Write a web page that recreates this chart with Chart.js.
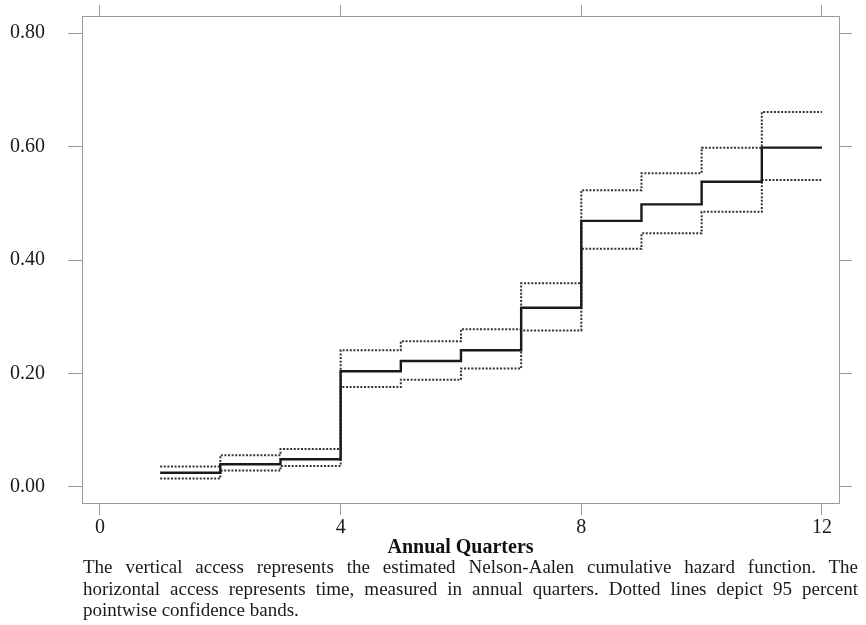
<!DOCTYPE html>
<html>
<head>
<meta charset="utf-8">
<script src="https://cdn.jsdelivr.net/npm/chart.js@4/dist/chart.umd.min.js"></script>
<style>
    body { margin: 0; background: #fff; }
    #wrap { position: relative; width: 866px; height: 625px; }
    #chart { position: absolute; left: 0; top: 0; }
    #caption {
        position: absolute; left: 83px; top: 556px; width: 775px;
        font-family: "Liberation Serif", serif; font-size: 19px; line-height: 21.5px; color: #1a1a1a;
    }
    #caption div { text-align: justify; text-align-last: justify; }
    #caption div.last { text-align-last: left; }
</style>
</head>
<body>
<div id="wrap">
    <canvas id="chart" width="866" height="560"></canvas>
    <div id="caption">
        <div>The vertical access represents the estimated Nelson-Aalen cumulative hazard function. The</div>
        <div>horizontal access represents time, measured in annual quarters. Dotted lines depict 95 percent</div>
        <div class="last">pointwise confidence bands.</div>
    </div>
</div>
<script>
const quarters = [1, 2, 3, 4, 5, 6, 7, 8, 9, 10, 11, 12];
const hazard = [0.025, 0.040, 0.049, 0.204, 0.222, 0.241, 0.316, 0.469, 0.498, 0.538, 0.598, 0.598];
const upperBand = [0.036, 0.056, 0.067, 0.241, 0.257, 0.278, 0.359, 0.523, 0.553, 0.598, 0.661, 0.661];
const lowerBand = [0.015, 0.029, 0.037, 0.176, 0.189, 0.209, 0.276, 0.420, 0.447, 0.485, 0.541, 0.541];
const xTicks = [0, 4, 8, 12];
const yTicks = [0, 0.2, 0.4, 0.6, 0.8];

const serif = '"Liberation Serif", "Times New Roman", serif';
const axisColor = '#9a9a9a';

function toPoints(values) {
    return quarters.map((q, i) => ({ x: q, y: values[i] }));
}

function stepSet(values, dashed) {
    return {
        data: toPoints(values),
        stepped: 'before',
        borderColor: dashed ? '#333' : '#1a1a1a',
        borderWidth: dashed ? 2 : 2.4,
        borderDash: dashed ? [2, 1.6] : [],
        pointRadius: 0,
        fill: false
    };
}

function fixedTicks(values) {
    return function (scale) {
        scale.ticks = values.map(v => ({ value: v }));
    };
}

// force an axis to a fixed thickness and drop the label overflow padding
function fixSize(prop, size) {
    return function (s) {
        s[prop] = size;
        s.paddingTop = 0;
        s.paddingBottom = 0;
        s.paddingLeft = 0;
        s.paddingRight = 0;
    };
}

new Chart(document.getElementById('chart'), {
    type: 'line',
    data: {
        datasets: [
            stepSet(hazard, false),
            stepSet(upperBand, true),
            stepSet(lowerBand, true)
        ]
    },
    options: {
        responsive: false,
        animation: false,
        devicePixelRatio: 1,
        layout: { padding: 0, autoPadding: false },
        plugins: { legend: { display: false }, tooltip: { enabled: false } },
        scales: {
            x: {
                type: 'linear',
                position: 'bottom',
                min: -0.299,
                max: 12.283,
                afterBuildTicks: fixedTicks(xTicks),
                afterFit: fixSize('height', 57),
                grid: { drawOnChartArea: false, tickLength: 12, color: axisColor },
                border: { color: axisColor },
                ticks: { font: { family: serif, size: 20 }, color: '#1a1a1a', padding: 1 },
                title: {
                    display: true,
                    text: 'Annual Quarters',
                    color: '#111',
                    font: { family: serif, size: 20, weight: 'bold' },
                    padding: 0
                }
            },
            x2: {
                type: 'linear',
                position: 'top',
                min: -0.299,
                max: 12.283,
                afterBuildTicks: fixedTicks(xTicks),
                afterFit: fixSize('height', 16),
                grid: { drawOnChartArea: false, tickLength: 11, color: axisColor },
                border: { color: axisColor },
                ticks: { display: false }
            },
            y: {
                position: 'left',
                min: -0.0282,
                max: 0.830,
                afterBuildTicks: fixedTicks(yTicks),
                afterFit: fixSize('width', 82),
                grid: { drawOnChartArea: false, tickLength: 14, color: axisColor },
                border: { color: axisColor },
                ticks: {
                    font: { family: serif, size: 20 },
                    color: '#1a1a1a',
                    padding: 23,
                    callback: v => v.toFixed(2)
                }
            },
            y2: {
                position: 'right',
                min: -0.0282,
                max: 0.830,
                afterBuildTicks: fixedTicks(yTicks),
                afterFit: fixSize('width', 27),
                grid: { drawOnChartArea: false, tickLength: 13, color: axisColor },
                border: { color: axisColor },
                ticks: { display: false }
            }
        }
    }
});
</script>
</body>
</html>
